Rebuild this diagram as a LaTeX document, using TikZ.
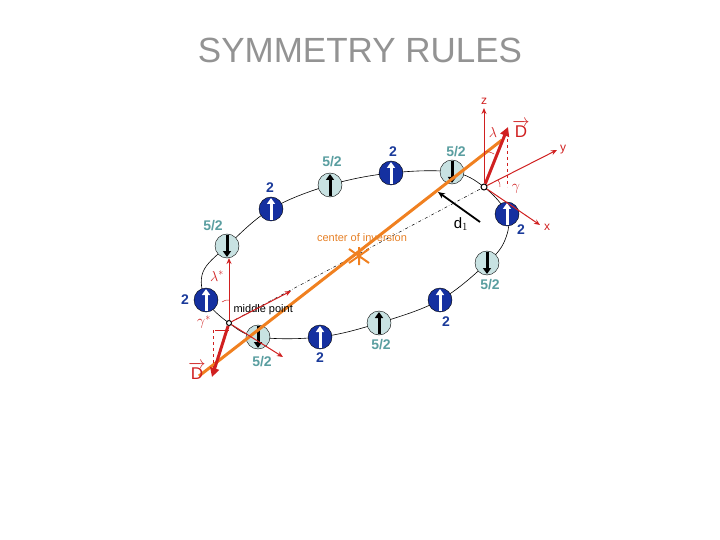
\documentclass[tikz,border=0pt]{standalone}
\usepackage{fontspec}
\setmainfont{Liberation Sans}
\usetikzlibrary{arrows.meta,calc}
\definecolor{ionblue}{HTML}{1530A0}
\definecolor{ionlight}{HTML}{C8E2E2}
\definecolor{tealtxt}{HTML}{5A9EA0}
\definecolor{bluetxt}{HTML}{1A3A9A}
\definecolor{redax}{HTML}{D02020}
\definecolor{orangeline}{HTML}{F08020}
\begin{document}
\begin{tikzpicture}[x=1pt,y=-1pt,
  blueion/.style={circle,draw=black,fill=ionblue,minimum size=24pt,inner sep=0pt},
  lightion/.style={circle,draw=black,fill=ionlight,minimum size=24pt,inner sep=0pt},
  bl/.style={text=bluetxt,font=\bfseries\fontsize{14}{14}\selectfont},
  tl/.style={text=tealtxt,font=\bfseries\fontsize{14}{14}\selectfont},
  ax/.style={redax,line width=1.5pt,-{Stealth[length=6pt,width=5pt]}},
  small/.style={circle,draw=black,fill=white,line width=1pt,minimum size=6pt,inner sep=0pt}]
\useasboundingbox (0,0) rectangle (720,540);
\node[text=gray!85,font=\fontsize{35}{35}\selectfont] (title) at (360,50) {SYMMETRY RULES};
% ring
\draw[black,line width=0.6pt] plot[smooth cycle,tension=0.6] coordinates {(227,246) (271,209) (330,185) (391,173) (452,172) (484,187) (507,214) (505,240) (487,263) (440,300) (379,323) (320,337) (258,337) (229,323) (206,300) (203,272)};
% dash-dot line
\draw[black,dash dot,line width=0.5pt] (229,323) -- (484,187);
% ions
\foreach \n/\x/\y/\t/\d/\lx/\ly/\lab in {
 a/227/246/l/d/213/226/5\slash 2, b/271/209/b/u/270/188/2, c/330/185/l/u/332/162/5\slash 2,
 d/391/173/b/u/393/152/2, e/452/172/l/d/456/152/5\slash 2, f/507/214/b/u/521/230/2,
 g/487/263/l/d/490/285/5\slash 2, h/440/300/b/u/446/322/2, i/379/323/l/u/381/345/5\slash 2,
 j/320/337/b/u/320/358/2, k/258/337/l/d/262/362/5\slash 2, m/206/300/b/u/185/300/2}{
  \if\t b
   \node[blueion] (\n) at (\x,\y) {};
   \draw[white,line width=3pt,-{Triangle[length=6pt,width=8pt]}] (\x,\y+11) -- (\x,\y-11);
   \node[bl] (\n lab) at (\lx,\ly) {\lab};
  \else
   \node[lightion] (\n) at (\x,\y) {};
   \if\d u \draw[black,line width=3pt,-{Triangle[length=6pt,width=8pt]}] (\x,\y+11) -- (\x,\y-11);
   \else \draw[black,line width=3pt,-{Triangle[length=6pt,width=8pt]}] (\x,\y-11) -- (\x,\y+11);\fi
   \node[tl] (\n lab) at (\lx,\ly) {\lab};
  \fi
}
% orange line and center of inversion
\coordinate (Dl) at (199,376);
\coordinate (Dr) at (502,140);
\draw[orangeline,line width=3pt] (Dl) -- (Dr);
\coordinate (ci) at (359,256);
\draw[orangeline,line width=2pt] ($(ci)+(-10,-7)$) -- ($(ci)+(10,7)$) ($(ci)+(-10,7)$) -- ($(ci)+(10,-7)$) ($(ci)+(0,-9)$) -- ($(ci)+(0,9)$);
\node[text=orangeline!80!brown,font=\fontsize{11}{11}\selectfont] (cilab) at (362,238) {center of inversion};
% axes at origin
\node[small] (o) at (484,187) {};
\coordinate (zt) at (484,108);
\coordinate (yt) at (557,150);
\coordinate (xt) at (540,225);
\coordinate (Dt) at (508,127);
\draw[ax,line width=1pt] (o) -- (zt);
\draw[ax,line width=1pt] (o) -- (yt);
\draw[ax,line width=1pt] (o) -- (xt);
\draw[redax,line width=3pt,-{Triangle[length=9pt,width=9pt]}] (o) -- (Dt);
\draw[redax,dashed,line width=0.6pt] (507,133) -- (507,187);
\draw[redax,line width=0.5pt] (484,152) to[bend left=20] (494,154);
\draw[redax,line width=0.5pt] (500,187) to[bend right=20] (498,180);
\node[redax,font=\fontsize{12}{12}\selectfont] (zl) at (484,101) {z};
\node[redax,font=\fontsize{12}{12}\selectfont] (yl) at (563,150) {y};
\node[redax,font=\fontsize{12}{12}\selectfont] (xl) at (547,227) {x};
\node[redax,font=\fontsize{17}{17}\selectfont,inner sep=1pt] (Dlab) at (521,129) {$\overrightarrow{\mathrm{D}}$};
\node[redax,font=\fontsize{14}{14}\selectfont] (lam) at (493,133) {$\lambda$};
\node[redax,font=\fontsize{14}{14}\selectfont] (gam) at (516,189) {$\gamma$};
% d1
\coordinate (d1a) at (480,222);
\coordinate (d1b) at (438,192);
\draw[black,line width=1.8pt,-{Stealth[length=7pt,width=6pt]}] (d1a) -- (d1b);
\node[font=\fontsize{15}{15}\selectfont] (d1) at (461,224) {d$_1$};
% middle point
\node[small,minimum size=5pt] (mp) at (229,323) {};
\node[font=\fontsize{11}{11}\selectfont,anchor=west] (mplab) at (230,310) {middle point};
\draw[ax,line width=1pt] (mp) -- (229,258);
\draw[ax,line width=1pt] (mp) -- (291,291);
\draw[ax,line width=1pt] (mp) -- (283,357);
\draw[redax,line width=3pt,-{Triangle[length=9pt,width=9pt]}] (mp) -- (212,377);
\draw[redax,dashed,line width=0.6pt] (213,330) -- (213,370);
\draw[redax,line width=0.5pt] (229,300) to[bend right=20] (222,302);
\draw[redax,line width=0.5pt] (215,330) -- (229,330);
\node[redax,font=\fontsize{14}{14}\selectfont] (lams) at (217,276) {$\lambda^{*}$};
\node[redax,font=\fontsize{14}{14}\selectfont] (gams) at (204,322) {$\gamma^{*}$};
\node[redax,font=\fontsize{17}{17}\selectfont,inner sep=1pt] (Dlab2) at (197,371) {$\overrightarrow{\mathrm{D}}$};
\end{tikzpicture}
\end{document}
